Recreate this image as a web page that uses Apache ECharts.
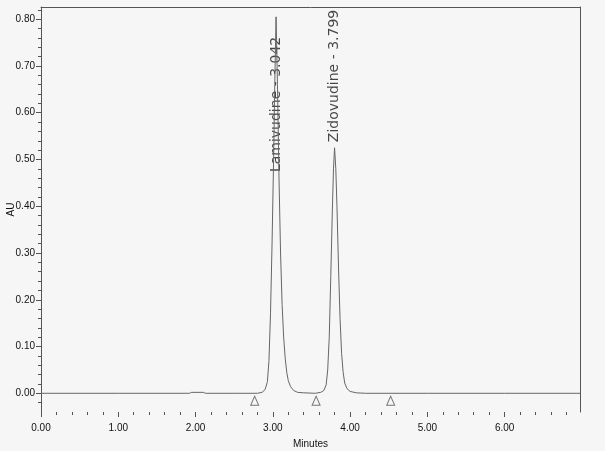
<!DOCTYPE html>
<html>
<head>
<meta charset="utf-8">
<script src="https://cdn.jsdelivr.net/npm/echarts@6/dist/echarts.min.js"></script>
<style>
html,body{margin:0;padding:0;background:#f6f6f6;}
#c{width:605px;height:451px;}
</style>
</head>
<body>
<div id="c"></div>
<script>
// Chromatogram trace (minutes, AU)
const traceTime = [0.00, 1.00, 1.92, 1.95, 2.10, 2.13, 2.50, 2.80, 2.86, 2.90, 2.93, 2.95, 2.97, 2.99, 3.01, 3.025, 3.042, 3.06, 3.08, 3.10, 3.12, 3.14, 3.16, 3.18, 3.20, 3.23, 3.27, 3.32, 3.40, 3.55, 3.62, 3.66, 3.69, 3.71, 3.73, 3.75, 3.77, 3.785, 3.799, 3.815, 3.83, 3.85, 3.87, 3.89, 3.91, 3.93, 3.96, 4.00, 4.08, 4.20, 5.00, 6.00, 6.975];
const traceAU = [0, 0, 0, 0.002, 0.002, 0, 0, 0, 0.002, 0.008, 0.025, 0.07, 0.17, 0.32, 0.50, 0.66, 0.805, 0.66, 0.46, 0.30, 0.19, 0.12, 0.075, 0.045, 0.027, 0.014, 0.006, 0.002, 0.001, 0, 0.002, 0.006, 0.018, 0.05, 0.12, 0.25, 0.39, 0.48, 0.525, 0.48, 0.40, 0.27, 0.16, 0.085, 0.045, 0.022, 0.010, 0.004, 0.001, 0, 0, 0, 0];

// Peak annotations
const peakNames = ['Lamivudine', 'Zidovudine'];
const peakTimes = [3.042, 3.799];
const peakLabelAU = [0.473, 0.537];

// Integration markers (triangles)
const markerTimes = [2.765, 3.56, 4.525];
const markerAU = [-0.016, -0.016, -0.016];

// Axis ticks
const xTicks = [0, 1, 2, 3, 4, 5, 6];
const yTicks = [0, 0.1, 0.2, 0.3, 0.4, 0.5, 0.6, 0.7, 0.8];
const xMin = 0, xMax = 6.975, yMin = -0.04, yMax = 0.826;

const xMinor = [];
for (let i = 0; i < xTicks.length; i++) for (let k = 1; k < 5; k++) { const v = xTicks[i] + k * 0.2; if (v < xMax) xMinor.push(+v.toFixed(2)); }
const yMinor = [-0.02];
for (let i = 0; i < yTicks.length; i++) for (let k = 1; k < 5; k++) { const v = yTicks[i] + k * 0.02; if (v < yMax) yMinor.push(+v.toFixed(2)); }

const traceData = traceTime.map((t, i) => [t, traceAU[i]]);
const peakData = peakTimes.map((t, i) => ({ value: [t, peakLabelAU[i]], name: peakNames[i] + ' - ' + t.toFixed(3) }));
const markerData = markerTimes.map((t, i) => [t, markerAU[i]]);

const tickFont = { fontFamily: "'Liberation Sans', Arial, sans-serif", fontSize: 10, color: '#111' };
const axisCol = '#555';

const chart = echarts.init(document.getElementById('c'), null, { renderer: 'canvas' });
chart.setOption({
  backgroundColor: '#f6f6f6',
  animation: false,
  grid: { left: 41, top: 7, right: 25, bottom: 39, containLabel: false, outerBoundsMode: 'none' },
  xAxis: [
    {
      type: 'value', min: xMin, max: xMax, position: 'bottom',
      name: 'Minutes', nameLocation: 'middle', nameGap: 27, nameMoveOverlap: false,
      nameTextStyle: tickFont,
      axisLine: { show: false, onZero: false },
      axisTick: { show: true, customValues: xTicks, length: 5, lineStyle: { color: axisCol } },
      axisLabel: Object.assign({ customValues: xTicks, margin: 11, formatter: v => v.toFixed(2) }, tickFont),
      splitLine: { show: false }
    },
    {
      type: 'value', min: xMin, max: xMax, position: 'bottom',
      axisLine: { show: false, onZero: false },
      axisTick: { show: true, customValues: xMinor, length: 3, lineStyle: { color: axisCol } },
      axisLabel: { show: false }, splitLine: { show: false }
    },
    {
      type: 'value', min: xMin, max: xMax, position: 'top',
      axisLine: { show: true, onZero: false, lineStyle: { color: axisCol, width: 1 } },
      axisTick: { show: false }, axisLabel: { show: false }, splitLine: { show: false }
    }
  ],
  yAxis: [
    {
      type: 'value', min: yMin, max: yMax, position: 'left',
      name: 'AU', nameLocation: 'middle', nameGap: 25, nameRotate: 90, nameMoveOverlap: false,
      nameTextStyle: tickFont,
      axisLine: { show: true, onZero: false, lineStyle: { color: axisCol, width: 1 } },
      axisTick: { show: true, customValues: yTicks, length: 5, lineStyle: { color: axisCol } },
      axisLabel: Object.assign({ customValues: yTicks, margin: 6, formatter: v => v.toFixed(2) }, tickFont),
      splitLine: { show: false }
    },
    {
      type: 'value', min: yMin, max: yMax, position: 'left',
      axisLine: { show: false, onZero: false },
      axisTick: { show: true, customValues: yMinor, length: 3, lineStyle: { color: axisCol } },
      axisLabel: { show: false }, splitLine: { show: false }
    },
    {
      type: 'value', min: yMin, max: yMax, position: 'right',
      axisLine: { show: true, onZero: false, lineStyle: { color: axisCol, width: 1 } },
      axisTick: { show: false }, axisLabel: { show: false }, splitLine: { show: false }
    }
  ],
  series: [
    {
      type: 'line', data: traceData, xAxisIndex: 0, yAxisIndex: 0,
      showSymbol: false, symbol: 'none',
      lineStyle: { color: '#666', width: 1 }
    },
    {
      type: 'scatter', data: markerData, xAxisIndex: 0, yAxisIndex: 0,
      symbol: 'triangle', symbolSize: [8, 9],
      itemStyle: { color: 'rgba(0,0,0,0)', borderColor: '#555', borderWidth: 1 }
    },
    {
      type: 'scatter', data: peakData, xAxisIndex: 0, yAxisIndex: 0,
      symbolSize: 0,
      label: {
        show: true, position: 'top', distance: 0, rotate: 90,
        align: 'left', verticalAlign: 'middle',
        formatter: p => p.name,
        fontFamily: "'DejaVu Sans', 'Liberation Sans', sans-serif", fontSize: 14, color: '#1a1a1a'
      }
    }
  ]
});
</script>
</body>
</html>
